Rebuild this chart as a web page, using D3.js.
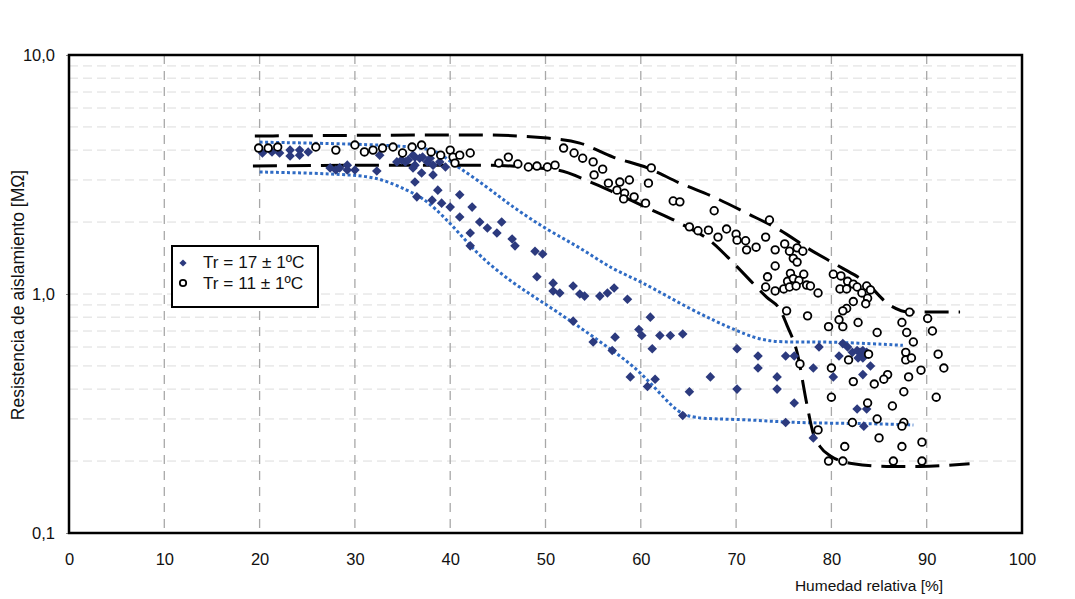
<!DOCTYPE html>
<html>
<head>
<meta charset="utf-8">
<script src="https://cdn.jsdelivr.net/npm/d3@7"></script>
<style>
  html, body { margin: 0; padding: 0; background: #fff; }
  svg { display: block; font-family: "Liberation Sans", Arial, sans-serif; }
</style>
</head>
<body>
<svg id="chart" width="1075" height="599"></svg>
<script>
// Humidity ticks and resistance ticks (log axis)
const humidityTicks = [0, 10, 20, 30, 40, 50, 60, 70, 80, 90, 100];
const resistanceTicks = [0.1, 1, 10];
const resistanceLabels = ['0,1', '1,0', '10,0'];
const legendLabels = ['Tr = 17 ± 1ºC', 'Tr = 11 ± 1ºC'];

// Tr = 17 ± 1ºC measurements [humidity %, resistance MΩ]
const tr17Points = [
  [20.3, 3.89], [21.3, 3.93], [22.1, 3.89], [23.2, 4.00], [23.2, 3.78], [24.2, 4.00], [24.2, 3.81],
  [25.1, 3.93], [27.4, 3.37], [28.0, 3.30], [28.4, 3.37], [29.2, 3.46], [29.2, 3.30], [30.0, 3.30],
  [32.3, 3.27], [32.6, 3.81], [34.4, 3.57], [34.9, 3.64], [35.3, 3.57], [35.6, 3.64], [36.1, 3.81],
  [36.3, 3.74], [36.3, 3.46], [36.8, 3.70], [37.1, 3.74], [37.6, 3.57], [37.9, 3.70], [38.2, 3.46],
  [38.9, 3.57], [39.5, 3.40], [37.0, 3.21], [38.2, 3.15], [36.1, 3.37], [36.3, 2.94], [38.7, 2.72],
  [36.5, 2.55], [38.1, 2.47], [39.1, 2.40], [40.0, 2.31], [41.0, 2.60], [42.3, 2.31], [41.0, 2.10],
  [43.1, 2.00], [43.9, 1.89], [45.4, 2.00], [42.1, 1.80], [44.9, 1.80], [46.5, 1.70], [46.8, 1.59],
  [42.1, 1.59], [48.9, 1.51], [49.7, 1.47], [49.1, 1.18], [50.8, 1.11], [50.8, 1.03], [51.5, 1.01],
  [52.9, 1.08], [53.6, 1.00], [54.1, 0.98], [55.7, 0.98], [56.5, 1.01], [57.2, 1.06], [58.6, 0.95],
  [52.9, 0.77], [55.0, 0.63], [57.3, 0.66], [57.0, 0.58], [58.9, 0.45], [61.0, 0.80], [59.8, 0.71],
  [60.1, 0.67], [62.0, 0.67], [63.1, 0.67], [64.4, 0.68], [61.2, 0.59], [61.5, 0.44], [60.7, 0.41],
  [65.1, 0.39], [67.3, 0.45], [70.1, 0.59], [70.1, 0.40], [64.4, 0.31], [72.3, 0.55], [72.3, 0.49],
  [74.3, 0.45], [74.3, 0.40], [75.2, 0.55], [76.1, 0.55], [76.1, 0.35], [75.2, 0.29], [78.1, 0.49],
  [78.1, 0.25], [78.7, 0.60], [80.2, 0.45], [80.8, 0.55], [81.2, 0.62], [81.7, 0.60], [82.2, 0.57],
  [82.7, 0.58], [83.0, 0.57], [83.3, 0.58], [83.7, 0.57], [83.3, 0.54], [82.8, 0.54], [84.1, 0.50],
  [83.3, 0.46], [82.7, 0.33], [83.7, 0.33], [83.4, 0.28]
];

// Tr = 11 ± 1ºC measurements [humidity %, resistance MΩ]
const tr11Points = [
  [19.9, 4.08], [20.9, 4.08], [21.9, 4.12], [25.9, 4.12], [28.0, 4.00], [30.0, 4.20], [31.0, 3.93],
  [31.9, 4.00], [32.9, 4.08], [34.0, 4.12], [35.0, 3.89], [36.0, 4.12], [37.0, 4.20], [38.0, 3.93],
  [39.0, 3.81], [40.0, 4.00], [40.3, 3.74], [41.0, 3.81], [42.1, 3.89], [40.5, 3.53], [45.1, 3.53],
  [46.1, 3.74], [47.1, 3.50], [48.2, 3.40], [49.1, 3.43], [50.2, 3.40], [51.0, 3.46], [51.9, 4.08],
  [53.0, 3.89], [53.9, 3.70], [55.0, 3.57], [55.1, 3.15], [56.0, 3.33], [56.6, 2.91], [57.5, 2.72],
  [57.8, 2.94], [58.8, 3.00], [58.3, 2.64], [59.3, 2.55], [58.2, 2.50], [60.5, 2.40], [60.8, 2.91],
  [61.1, 3.37], [63.4, 2.45], [64.1, 2.43], [65.1, 1.91], [66.0, 1.84], [67.1, 1.85], [67.7, 2.23],
  [68.1, 1.73], [69.0, 1.87], [70.0, 1.78], [70.1, 1.68], [71.0, 1.67], [71.1, 1.53], [72.1, 1.57],
  [73.1, 1.73], [73.5, 2.04], [74.1, 1.53], [74.1, 1.31], [75.1, 1.62], [75.6, 1.51], [76.4, 1.56],
  [77.0, 1.51], [76.0, 1.41], [76.4, 1.36], [75.7, 1.22], [77.1, 1.21], [75.4, 1.13], [76.0, 1.16],
  [76.6, 1.14], [75.0, 1.05], [75.6, 1.07], [76.3, 1.08], [77.4, 1.09], [77.8, 1.08], [73.3, 1.18],
  [73.1, 1.07], [74.1, 1.03], [78.6, 1.01], [75.3, 0.85], [77.5, 0.81], [80.2, 1.21], [81.0, 1.19],
  [81.7, 1.13], [82.3, 1.10], [80.9, 1.05], [81.6, 1.05], [82.7, 1.07], [83.2, 1.01], [83.7, 1.08],
  [84.1, 1.04], [83.8, 0.96], [82.3, 0.93], [83.6, 0.91], [81.6, 0.87], [81.2, 0.85], [80.8, 0.78],
  [81.2, 0.73], [79.7, 0.73], [82.8, 0.76], [84.8, 0.69], [87.4, 0.76], [88.2, 0.84], [90.1, 0.79],
  [90.6, 0.70], [87.9, 0.69], [88.6, 0.63], [87.8, 0.57], [87.8, 0.53], [88.4, 0.54], [91.2, 0.56],
  [91.8, 0.49], [89.4, 0.48], [88.1, 0.45], [81.8, 0.53], [83.9, 0.56], [80.0, 0.49], [85.9, 0.46],
  [85.5, 0.44], [84.5, 0.42], [82.3, 0.43], [76.7, 0.51], [80.0, 0.37], [87.6, 0.39], [91.0, 0.37],
  [83.8, 0.35], [86.4, 0.34], [84.8, 0.30], [82.2, 0.29], [87.6, 0.29], [87.4, 0.28], [78.6, 0.27],
  [85.0, 0.25], [81.4, 0.23], [87.4, 0.23], [89.5, 0.24], [79.7, 0.20], [81.2, 0.20], [86.5, 0.20],
  [89.5, 0.20]
];

// Envelopes
const tr17Upper = [
  [20, 4.32], [36.1, 4.20], [38.9, 3.93], [39.7, 3.64], [42.4, 3.09], [45.2, 2.55], [46.6, 2.31],
  [50.2, 1.85], [53.6, 1.57], [57.1, 1.26], [59.9, 1.14], [65.2, 0.86], [70.4, 0.69], [73.2, 0.63],
  [76.7, 0.63], [80.6, 0.63], [87.5, 0.61]
];
const tr17Lower = [
  [20, 3.24], [25, 3.21], [29.8, 3.15], [32.6, 3.06], [35.5, 2.72], [37.6, 2.47], [40.7, 1.85],
  [43.1, 1.43], [46.6, 1.11], [49.4, 0.94], [52.9, 0.76], [56.5, 0.60], [59.9, 0.48], [63.4, 0.33],
  [65.2, 0.30], [70.4, 0.30], [75.3, 0.29], [80.2, 0.288], [85.8, 0.286], [88.6, 0.283]
];
const tr11Upper = [
  [19.5, 4.58], [43.1, 4.63], [50.2, 4.49], [53.6, 4.28], [57.1, 3.74], [60.7, 3.37], [64.1, 2.91],
  [67.6, 2.55], [71.1, 2.18], [74.6, 1.85], [77.8, 1.53], [80.9, 1.30], [83.7, 1.11], [86.1, 0.90],
  [88.2, 0.84], [93.5, 0.84]
];
const tr11Lower = [
  [19.3, 3.43], [34.7, 3.46], [43.1, 3.46], [51.2, 3.30], [54.7, 2.94], [57.1, 2.67], [60.7, 2.29],
  [64.1, 1.98], [67.6, 1.63], [69.7, 1.35], [73.2, 0.97], [74.6, 0.86], [75.4, 0.73], [76.4, 0.57],
  [77.4, 0.35], [78.1, 0.26], [78.8, 0.23], [79.9, 0.21], [82.3, 0.195], [85.8, 0.19], [89.3, 0.19],
  [94.5, 0.195]
];

const BLUE = '#2f6bc4';
const NAVY = '#2c3a7e';
const PLOT = { left: 69, right: 1022, top: 55, bottom: 533 };

const svg = d3.select('#chart');

const x = d3.scaleLinear().domain([0, 100]).range([PLOT.left, PLOT.right]);
const y = d3.scaleLog().domain([0.1, 10]).range([PLOT.bottom, PLOT.top]);

// horizontal minor gridlines
let minor = y.ticks().filter(v => v > 0.1 && v < 10);
svg.append('g').selectAll('line')
  .data(minor)
  .enter().append('line')
  .attr('x1', PLOT.left).attr('x2', PLOT.right)
  .attr('y1', d => y(d)).attr('y2', d => y(d))
  .attr('stroke', '#dcdcdc')
  .attr('stroke-width', 1)
  .attr('stroke-dasharray', '9,5');

// vertical gridlines
svg.append('g').selectAll('line')
  .data(humidityTicks.filter(v => v > 0 && v < 100))
  .enter().append('line')
  .attr('x1', d => x(d)).attr('x2', d => x(d))
  .attr('y1', PLOT.top).attr('y2', PLOT.bottom)
  .attr('stroke', '#a8a8a8')
  .attr('stroke-width', 1.3)
  .attr('stroke-dasharray', '9,7');

// axes
let xAxis = d3.axisBottom(x).tickValues(humidityTicks).tickSize(0).tickPadding(20)
  .tickFormat(d3.format('d'));
let gx = svg.append('g')
  .attr('transform', 'translate(0,' + PLOT.bottom + ')')
  .call(xAxis);
gx.select('.domain').remove();
gx.selectAll('text').attr('font-size', 16.5).attr('fill', '#111')
  .attr('font-family', '"Liberation Sans", Arial, sans-serif');

let yAxis = d3.axisLeft(y).tickValues(resistanceTicks).tickSize(3).tickPadding(11)
  .tickFormat((d, i) => resistanceLabels[i]);
let gy = svg.append('g')
  .attr('transform', 'translate(' + PLOT.left + ',0)')
  .call(yAxis);
gy.select('.domain').remove();
gy.selectAll('line').attr('stroke', '#888');
gy.selectAll('text').attr('font-size', 16.5).attr('fill', '#111')
  .attr('font-family', '"Liberation Sans", Arial, sans-serif');

// envelope lines
let smooth = d3.line()
  .x(d => x(d[0]))
  .y(d => y(d[1]))
  .curve(d3.curveBasis);
let line = d3.line()
  .x(d => x(d[0]))
  .y(d => y(d[1]))
  .curve(d3.curveMonotoneX);

[tr17Upper, tr17Lower].forEach(data => {
  svg.append('path')
    .attr('d', smooth(data))
    .attr('fill', 'none')
    .attr('stroke', BLUE)
    .attr('stroke-width', 3)
    .attr('stroke-dasharray', '3,2.5');
});

[tr11Upper, tr11Lower].forEach(data => {
  svg.append('path')
    .attr('d', line(data))
    .attr('fill', 'none')
    .attr('stroke', '#000')
    .attr('stroke-width', 3)
    .attr('stroke-dasharray', '24,10');
});

// Tr = 17 diamonds
let diamond = d3.symbol().type(d3.symbolSquare).size(46);
svg.append('g').selectAll('path')
  .data(tr17Points)
  .enter().append('path')
  .attr('d', diamond)
  .attr('transform', d => 'translate(' + x(d[0]) + ',' + y(d[1]) + ') rotate(45)')
  .attr('fill', NAVY);

// Tr = 11 circles
svg.append('g').selectAll('circle')
  .data(tr11Points)
  .enter().append('circle')
  .attr('cx', d => x(d[0]))
  .attr('cy', d => y(d[1]))
  .attr('r', 3.8)
  .attr('fill', '#fff')
  .attr('stroke', '#000')
  .attr('stroke-width', 1.8);

// plot frame
svg.append('rect')
  .attr('x', PLOT.left).attr('y', PLOT.top)
  .attr('width', PLOT.right - PLOT.left)
  .attr('height', PLOT.bottom - PLOT.top)
  .attr('fill', 'none')
  .attr('stroke', '#000')
  .attr('stroke-width', 2.5);

// axis titles
svg.append('text')
  .attr('x', 869).attr('y', 591)
  .attr('text-anchor', 'middle')
  .attr('font-size', 15.5)
  .attr('fill', '#111')
  .text('Humedad relativa [%]');

svg.append('text')
  .attr('transform', 'translate(24,295) rotate(-90)')
  .attr('text-anchor', 'middle')
  .attr('font-size', 17.5)
  .attr('fill', '#111')
  .text('Resistencia de aislamiento [MΩ]');

// legend
let legend = svg.append('g');
legend.append('rect')
  .attr('x', 172).attr('y', 246)
  .attr('width', 146).attr('height', 61)
  .attr('fill', '#fff')
  .attr('stroke', '#000')
  .attr('stroke-width', 2);
legend.append('path')
  .attr('d', d3.symbol().type(d3.symbolSquare).size(26))
  .attr('transform', 'translate(183,263) rotate(45)')
  .attr('fill', NAVY);
legend.append('circle')
  .attr('cx', 183).attr('cy', 283).attr('r', 3.2)
  .attr('fill', '#fff').attr('stroke', '#000').attr('stroke-width', 1.8);
legend.selectAll('text')
  .data(legendLabels)
  .enter().append('text')
  .attr('x', 203)
  .attr('y', (d, i) => 268 + i * 21)
  .attr('font-size', 17.2)
  .attr('fill', '#111')
  .text(d => d);
</script>
</body>
</html>
